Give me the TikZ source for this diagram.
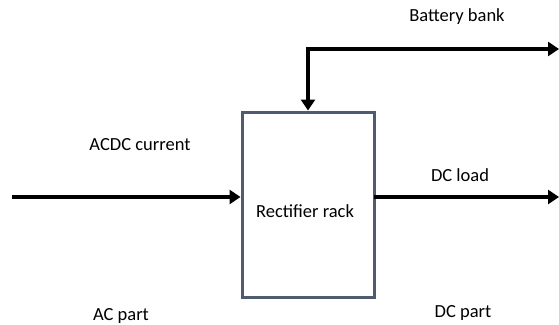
\documentclass[tikz,border=0pt]{standalone}
\usepackage{fontspec}
\setmainfont{Carlito}
\usetikzlibrary{arrows.meta}
\definecolor{boxgray}{HTML}{4F5B6E}
\tikzset{
  flow/.style={line width=4pt,line cap=rect,-{Triangle[length=11pt,width=14pt]}},
  lbl/.style={font=\fontsize{18.5}{22}\selectfont,inner sep=0pt},
  rack/.style={draw=boxgray,line width=3pt,fill=white,inner sep=0pt}
}
\begin{document}
\begin{tikzpicture}[x=1pt,y=-1pt]
\useasboundingbox (0,0) rectangle (559,324);
\node[rack,minimum width=132pt,minimum height=185pt] (rack) at (308,204.5) {};
\node[lbl] (rtxt) at (305,211) {Rectifier rack};
\coordinate (in) at (14,197);
\coordinate (load) at (559,197);
\coordinate (bat) at (559,49);
\coordinate (corner) at (308,49);
\draw[flow] (in) -- (in -| rack.west);
\draw[flow] (load -| rack.east) -- (load);
\draw[flow] (corner) -- (bat);
\draw[flow] (corner) -- (rack.north);
\node[lbl] (tbat) at (457,17) {Battery bank};
\node[lbl] (tacdc) at (140,145) {ACDC current};
\node[lbl] (tload) at (460,175) {DC load};
\node[lbl] (tac) at (121,316) {AC part};
\node[lbl] (tdc) at (463,313) {DC part};
\end{tikzpicture}
\end{document}
